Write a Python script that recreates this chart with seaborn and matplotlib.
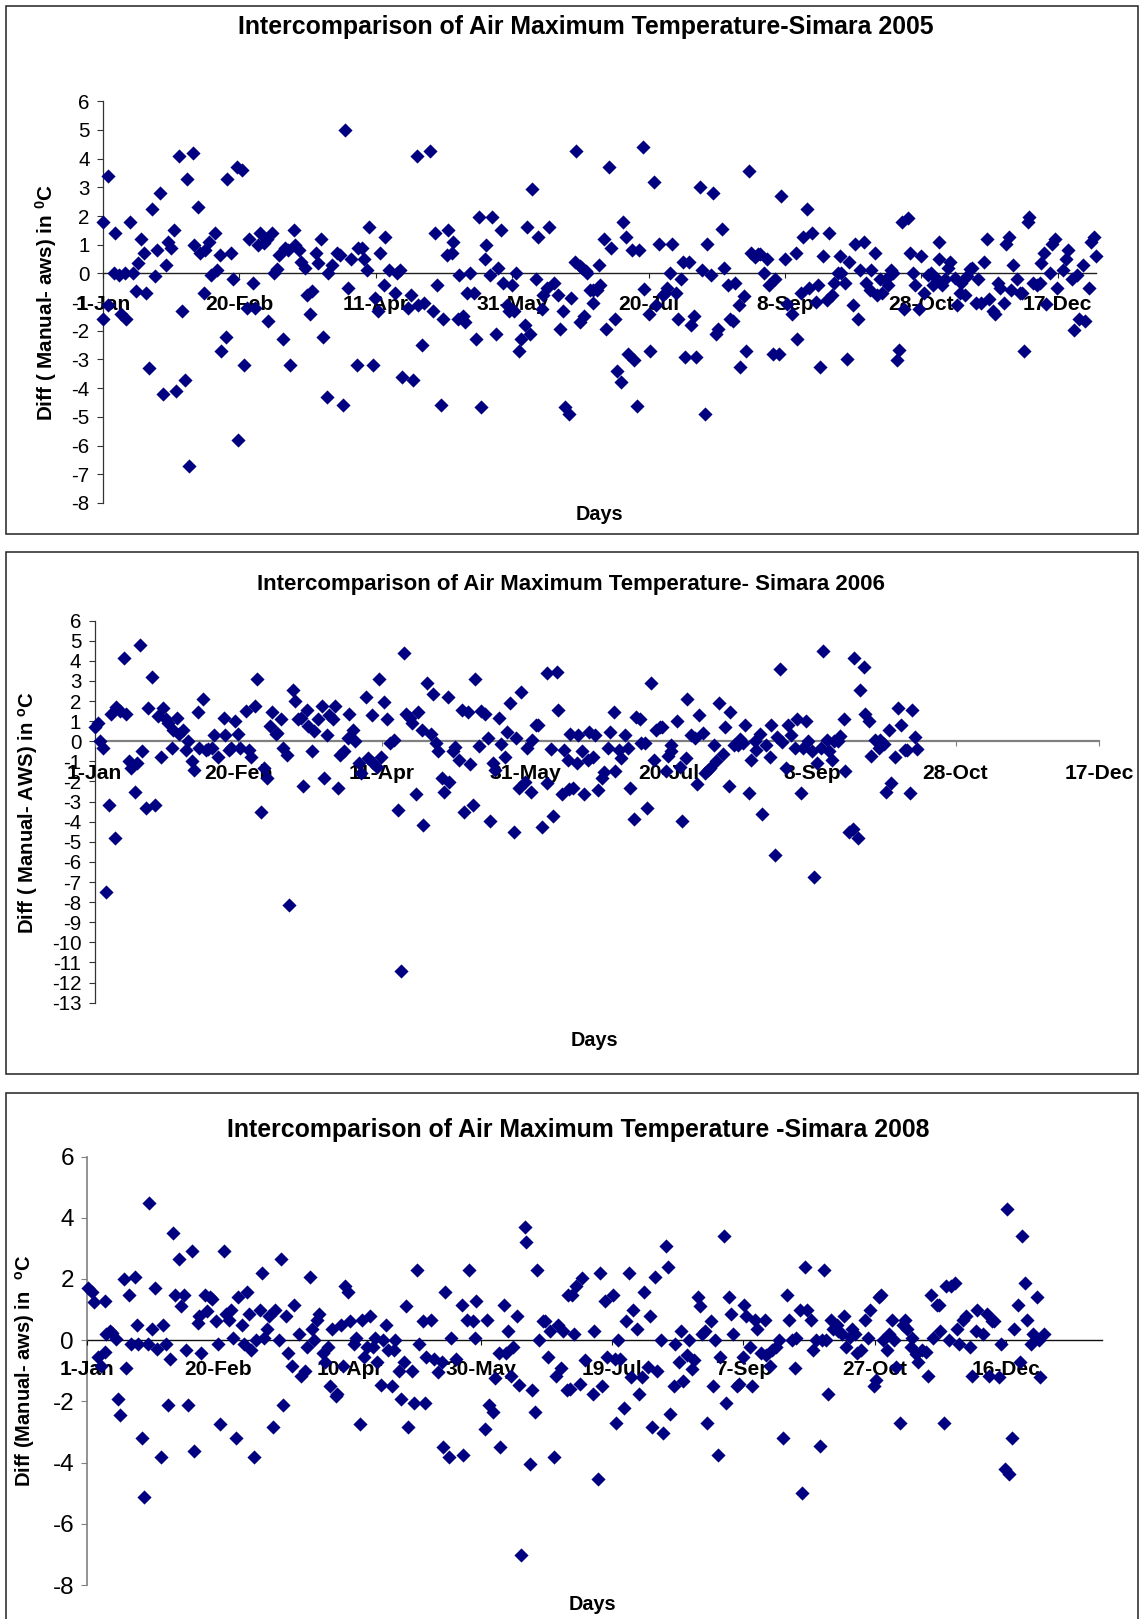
"""Intercomparison of air maximum temperature at Simara, three years stacked."""

import matplotlib.pyplot as plt
from matplotlib.patches import Rectangle
import pandas as pd
import seaborn as sns

WIDTH, HEIGHT = 1139, 1619

DAYS_2005 = [
    0, 0, 2, 2, 4, 4.5, 6, 6.5, 8, 8.5, 10, 11,
    12, 13, 14, 15, 16, 17, 18, 19, 20, 21, 22, 23,
    24, 25, 26, 27, 28, 29, 30, 31, 31.5, 33, 33.5, 35,
    35.5, 37, 37.5, 39, 39.5, 41, 41.7, 43, 43.5, 45, 45.7, 47,
    47.7, 49, 49.7, 51, 51.7, 53, 53.7, 55, 55.7, 57, 57.7, 59,
    60, 60.5, 62, 62.6, 64, 64.6, 66, 66.6, 68, 68.6, 70, 70.6,
    72, 72.7, 74, 74.7, 76, 76.5, 78, 78.7, 80, 80.7, 82, 82.7,
    84, 86, 87, 88, 88.8, 90, 90.8, 93, 93.6, 95, 95.6, 97,
    97.6, 99, 99.6, 101, 101.6, 103, 103.6, 105, 107, 107.7, 109, 109.7,
    112, 113, 113.7, 115, 115.7, 117, 117.7, 120, 121, 121.8, 122.5, 124,
    124.5, 126, 126.5, 128, 128.5, 130, 130.5, 132, 132.7, 133.4, 134.6, 136,
    136.6, 138, 138.6, 140, 140.6, 142, 142.6, 144, 144.7, 146, 146.7, 148,
    148.7, 150, 150.7, 151.4, 152.7, 153.4, 154.7, 155.4, 156.7, 157.4, 158.7, 159.5,
    160.9, 161.5, 162.8, 163.5, 165.5, 166.9, 167.5, 168.8, 169.5, 171, 171.5, 173,
    173.6, 175, 175, 175.6, 176.4, 177, 177.6, 178.4, 179.7, 179.7, 181, 181.7,
    182.4, 183.7, 184.4, 185.7, 186.4, 187.7, 188.4, 189.8, 190.5, 191.8, 192.5, 193.8,
    194.5, 195.8, 196.5, 197.8, 198.5, 200, 200.6, 202, 202.6, 204, 205.3, 206,
    206.7, 208, 208.7, 210, 210.7, 212, 212.7, 213.4, 214.7, 215.4, 216.7, 217.4,
    218.7, 219.5, 220.8, 221.5, 222.9, 223.5, 224.9, 225.5, 226.9, 227.7, 229, 229.7,
    231, 231.6, 233, 233.6, 235, 235.6, 237, 237.6, 239, 240, 241, 242.3,
    243.6, 244.3, 245.8, 246.4, 247.8, 248.6, 249.9, 250.6, 252.6, 254, 254.6, 256,
    256.7, 258, 258.7, 260, 261.3, 262, 262.7, 264, 265.3, 266, 267.3, 268,
    269.3, 270, 270.7, 272, 272.8, 273.5, 274.8, 275.5, 276.8, 277.5, 278.8, 279.6,
    281, 281.6, 283, 283.7, 285, 285.7, 287, 287.7, 289, 289.7, 291, 291.7,
    293, 293.7, 295, 295.7, 297, 297.7, 299, 299.7, 301, 302.4, 303.7, 304.4,
    305.7, 306.4, 306.5, 307.7, 308.5, 309.8, 310.5, 312.5, 312.9, 314.5, 314, 316,
    316.6, 318, 318.6, 320, 320.9, 322, 322.9, 324.2, 324.9, 326.2, 326.9, 328.2,
    328.9, 330.2, 330.9, 332.2, 332.8, 333.5, 335, 336.3, 337, 337.6, 339, 339.6,
    341, 342.3, 343.6, 343.7, 345, 345.8, 347, 347.8, 349, 349.8, 351.9, 353,
    353.9, 355.2, 355.9, 357.2, 357.9, 359.2, 359.9, 361.3, 362, 363.3, 364,
]
DIFF_2005 = [
    -1.6, 1.8, 3.4, -1.1, 0, 1.4, -0.07, -1.4, 0, -1.6, 1.8, 0,
    -0.6, 0.35, 1.2, 0.7, -0.7, -3.3, 2.25, -0.1, 0.8, 2.8, -4.2, 0.3,
    1.1, 0.9, 1.5, -4.1, 4.1, -1.3, -3.7, 3.3, -6.7, 4.2, 1, 2.3,
    0.7, -0.7, 0.8, 1.1, -0.07, 1.4, 0.13, 0.63, -2.7, -2.2, 3.3, 0.7,
    -0.2, 3.7, -5.8, 3.6, -3.2, -1.2, 1.2, -0.33, -1.2, 1, 1.4, 1.07,
    1.2, -1.67, 1.4, 0, 0.14, 0.63, -2.3, 0.9, 0.8, -3.2, 1.5, 1,
    0.8, 0.38, 0.2, -0.75, -1.4, -0.6, 0.7, 0.35, 1.2, -2.2, -4.3, 0,
    0.3, 0.7, 0.65, -4.6, 5, -0.5, 0.5, -3.2, 0.9, 0.9, 0.5, 0.12,
    1.6, -3.2, -0.87, -1.3, 0.7, -0.4, 1.27, 0.12, -0.7, 0, 0.12, -3.6,
    -1.2, -0.75, -3.7, 4.1, -1.1, -2.5, -1.03, 4.27, -1.3, 1.4, -0.4, -4.6,
    -1.6, 0.63, 1.5, 0.7, 1.1, -1.6, -0.07, -1.47, -1.7, -0.7, 0, -0.7,
    -2.3, 1.97, -4.67, 0.5, 1, -0.07, 1.97, -2.1, 0.2, 1.5, -0.33, -1.1,
    -1.3, -0.4, -1.3, 0, -2.7, -2.3, -1.8, 1.6, -2.1, 2.93, -0.2, 1.27,
    -1.23, -0.75, -0.5, 1.6, -0.33, -0.75, -1.93, -1.3, -4.67, -4.9, -0.87, 0.38,
    4.27, 0.26, -1.7, 0.2, -1.5, 0.08, 0, -0.57, -0.57, -1.03, -0.57, 0.3,
    -0.4, 1.2, -1.93, 3.7, 0.9, -1.6, -3.4, -3.8, 1.78, 1.28, -2.82, 0.83,
    -3.03, -4.62, 0.83, 4.4, -0.53, -1.4, -2.7, 3.18, -1.1, 1.02, -0.75, -0.7,
    -0.5, 0, 1.02, -0.7, -1.6, -0.2, 0.38, -2.9, 0.38, -1.8, -1.47, -2.9,
    3, 0.12, -4.9, 1.02, -0.07, 2.8, -2.1, -1.93, 1.53, 0.2, -0.4, -1.6,
    -1.67, -0.33, -1.1, -3.27, -0.78, -2.7, 3.58, 0.7, 0.56, 0.68, 0.68, 0,
    0.5, -0.4, -2.82, -0.2, -2.82, 2.68, 0.5, -1.05, -1.4, 0.7, -2.3, -0.7,
    1.28, 2.24, -0.5, 1.4, -1, -0.4, -3.27, 0.62, -0.93, 1.4, -0.75, -0.33,
    0, 0.62, 0, -0.33, -3, 0.38, -1.1, 1.02, -1.6, 0.12, 1.08, -0.33,
    -0.57, 0.12, 0.7, -0.75, -0.2, -0.7, -0.2, -0.4, 0.12, 0, -3.03, -2.67,
    1.78, -1.23, 1.93, 0.7, 0, -0.4, -1.23, 0.62, -0.7, -0.07, 0, -0.4,
    -0.2, 0.5, 1.08, -0.4, -0.2, 0.2, 0.38, -0.15, -1.1, -0.33, -0.7, -0.75,
    -0.1, 0.14, 0.2, -1.03, -0.2, -1.03, 0.38, 1.2, -0.9, -1.3, -1.4, -0.33,
    -0.5, -1.03, 1.02, 1.27, -0.57, 0.3, -0.2, -0.7, -0.7, -2.7, 1.78, 1.97,
    -0.33, -0.4, -0.33, 0.35, 0.7, -1.05, 0, 1.02, 1.2, -0.5, 0.12, 0.5,
    0.83, -0.2, -1.98, -0.07, -1.6, 0.3, -1.67, -0.5, 1.08, 1.28, 0.62,
]

DAYS_2006 = [
    0, 1.3, 2, 3, 4, 5, 5.7, 7, 7.6, 9, 10.3, 11,
    12, 12.8, 14, 14.7, 16, 16.7, 18, 18.6, 20, 21, 22, 23,
    23.7, 25, 25.6, 26.9, 27.5, 28.8, 29.4, 30.7, 32, 32.7, 34, 34.6,
    35.9, 36.5, 37.9, 39, 39.6, 41, 41.7, 43, 45, 45.6, 47, 47.6,
    49, 50, 50.8, 52.7, 54, 54.6, 56, 56.7, 58, 59.2, 60, 61.3,
    61.9, 63.1, 63.7, 65, 65.6, 67, 67.6, 69, 70, 70.8, 72, 72.6,
    73.9, 74.5, 75.9, 76.6, 77.8, 79.2, 79.8, 81, 81.7, 83, 83.8, 85,
    85.7, 87, 88.2, 88.8, 90, 90.7, 92, 92.8, 94.7, 95.3, 96.6, 97.2,
    98.5, 99, 99.9, 101, 101.8, 103, 104.3, 105.6, 106.8, 108, 108.7, 110,
    110.8, 112, 112.7, 114, 114.6, 116, 117.2, 117.9, 119, 119.8, 121, 121.7,
    123, 123.6, 124.9, 125.6, 126.9, 128, 128.8, 130, 130.8, 132, 132.7, 134,
    134.6, 135.9, 137, 137.8, 139, 139.7, 141, 141.7, 143, 143.6, 144.9, 146,
    146.8, 148, 148.7, 149.9, 150.6, 152, 152.5, 153.9, 154.5, 156, 157.5, 157.7,
    159, 159.7, 161, 161.6, 163, 163.5, 165, 165.4, 165.7, 166.7, 168.2, 168.6,
    169.9, 170.5, 171.8, 172.4, 173.7, 174.3, 175.6, 176.9, 177.5, 179, 179.6, 180.9,
    181.5, 182.8, 183.4, 184.7, 186, 186.7, 188, 188.6, 189.9, 190.5, 191.9, 192.6,
    193.8, 195.1, 195.7, 197, 197.6, 199.2, 199.8, 201, 201, 202.8, 204, 204.7,
    206, 206.6, 207.9, 209.2, 210, 210.6, 212, 212.6, 213.9, 214.5, 215.8, 216.4,
    217.7, 218.9, 219.7, 221, 221.6, 222.9, 224.1, 224.8, 226, 226.8, 228, 228.7,
    230, 230.6, 231.9, 232.5, 233.8, 235.2, 235.8, 237, 237.7, 239, 239.6, 240.9,
    241.5, 242.8, 244.2, 244.8, 246, 246.7, 248, 248.7, 250, 250.6, 251.9, 253.2,
    253.9, 255.2, 255.8, 257, 257.8, 259, 259.7, 261, 261.6, 262.9, 264.2, 264.8,
    266, 266.7, 268, 268.6, 269.9, 270.6, 271.9, 273.2, 273.8, 275, 275.7, 277,
    277.6, 279, 279.8, 280.9, 282.3, 283, 284.2, 284.8, 286, 286.7,
]
DIFF_2006 = [
    0.73, 0.9, 0, -0.33, -7.5, -3.15, 1.35, -4.8, 1.7, 1.5, 4.13, 1.35,
    -1, -1.35, -2.5, -1.1, 4.77, -0.47, -3.3, 1.65, 3.2, -3.15, 1.27, -0.76,
    1.65, 1.1, 0.93, -0.33, 0.54, 1.18, 0.34, 0.56, -0.42, 0, -1, -1.43,
    1.47, -0.33, 2.1, -0.42, -0.4, -0.33, 0.3, -0.76, 1.18, 0.29, -0.42, -0.33,
    1, 0.34, -0.33, 1.5, -0.42, -0.76, 1.74, 3.12, -3.5, -1.35, -1.85, 0.76,
    1.47, 0.34, 0.4, 1.1, -0.33, -0.67, -8.13, 2.56, 2, 1.1, 1.18, -2.22,
    1.55, 0.76, -0.47, 0.5, 1.1, 1.74, -1.85, 0.3, 1.3, 1.1, 1.74, -2.33,
    -0.67, -0.47, 0.17, 1.35, 0.56, 0, -1.1, -1.6, 2.2, -0.84, 1.3, -1.1,
    -1.26, 3.12, -0.76, 1.94, 1.1, -0.08, 0.05, -3.42, -11.43, 4.38, 1.35, 1.18,
    0.89, -2.6, 1.47, 0.56, -4.17, 2.92, 0.34, 2.36, -0.08, -0.47, -1.85, -2.5,
    2.2, -2.02, -0.47, -0.3, -0.93, 1.55, -3.5, 1.47, -1.13, -3.15, 3.12, -0.22,
    1.5, 1.35, 0.17, -3.96, -1.1, -1.43, 1.18, -0.12, -0.76, 0.46, 1.9, -4.52,
    0.17, -2.33, 2.45, -2.02, -0.33, -2.5, 0.05, 0.8, 0.8, -4.25, -2.1, 3.37,
    -0.39, -3.71, 3.46, 1.55, -2.6, -0.42, -0.93, -2.36, 0.34, -2.33, -1.1, 0.29,
    -0.47, -2.6, -0.93, 0.46, -0.76, 0.29, -2.41, -1.85, -1.55, -0.33, 0.46, 1.47,
    -1.48, -0.42, -0.84, 0.29, -0.33, -2.33, -3.88, 1.23, 1.1, -0.08, -0.08, -3.34,
    2.92, -0.93, 0.56, 0.73, 0.73, -1.48, -0.73, -0.47, -0.17, 1, -1.26, -3.96,
    -0.84, 2.1, 0.29, 0.17, -2.14, 1.3, 0.42, -1.6, -1.43, -1.35, -0.17, -1,
    1.9, -0.62, 0.73, -2.24, 1.47, -0.2, -0.17, 0.12, -0.08, 0.81, -2.58, -0.93,
    0, -0.42, 0.37, -3.63, -0.2, -0.76, 0.81, -5.65, 0.2, 3.58, -0.03, -1.32,
    0.81, 0.29, -0.33, 1.1, -2.58, -0.33, 1, 0, -0.5, -6.75, -1.1, -0.33,
    4.5, 0.08, -0.5, -0.93, 0, 0, 0.25, 1.1, -1.48, -4.52, -4.35, 4.13,
    -4.8, 2.56, 3.68, 1.38, 1, -0.73, 0.08, -0.33, 0.08, -0.13, -2.5, 0.56,
    -2.1, -0.76, 1.65, 0.81, -0.45, -0.45, -2.58, 1.55, 0.2, -0.39,
]

DAYS_2008 = [
    0.3, 1.7, 2.5, 3.9, 5.3, 6.7, 6.9, 7.3, 8.7, 9.6, 11, 11.6,
    12.5, 13.9, 14.6, 15.9, 16.6, 18.2, 18.8, 19.5, 20.9, 21.6, 23, 23.7,
    24.5, 25.9, 26.6, 28, 28.7, 30, 30.8, 31.5, 32.8, 33.5, 34.9, 35.6,
    37, 37.8, 38.4, 39.9, 40.6, 42, 42.7, 43.4, 44.8, 45.5, 46.8, 47.7,
    49, 49.8, 50.4, 52, 52.7, 54, 54.7, 55.4, 56.8, 57.5, 58.9, 59.6,
    61, 61.7, 62.4, 63.7, 64.4, 65.8, 66.5, 67.2, 68.6, 69.4, 70.8, 71.6,
    73, 73.7, 74.4, 75.8, 76.5, 77.9, 78.6, 80.7, 81.3, 82.9, 83.6, 85,
    85.6, 86.3, 87.7, 88.4, 89.8, 90.5, 91.9, 92.6, 93.3, 94.7, 95.3, 96.7,
    97.4, 98.1, 99.5, 100.2, 101.6, 102.5, 103.9, 104.6, 105.3, 106.7, 107.7, 109,
    109.8, 110.4, 111.8, 112.5, 113.9, 114.6, 116, 116.7, 117.4, 118.8, 119.5, 120.8,
    121.5, 122.2, 123.6, 124.3, 125.7, 126.4, 127.8, 128.5, 129.2, 130.8, 132.2, 133.6,
    135, 135.7, 136.4, 137.8, 138.4, 140.5, 142.6, 143.3, 144.7, 145.4, 146.9, 147.6,
    148.3, 151.7, 152.4, 153.1, 154.5, 155.2, 156.7, 157.4, 158.7, 159.5, 160.2, 161.6,
    162.3, 163.7, 164.5, 165.2, 166.6, 167.3, 168.7, 169.4, 170.7, 171.4, 172.3, 173.7,
    174.4, 175.7, 176.4, 177.8, 178.5, 179.2, 180.6, 181.3, 182.6, 183.3, 184, 184.6,
    185.6, 186.3, 187.7, 188.4, 189.8, 192.6, 193.2, 194.6, 195.3, 196, 197.4, 198.1,
    200.2, 200.9, 201.6, 202.4, 203.1, 204.5, 205.2, 206.5, 207.2, 208, 209.3, 210.2,
    211.5, 212.2, 213.6, 214.3, 215, 216.4, 217.1, 218.6, 219.3, 220.7, 221.4, 222.1,
    223.5, 224.1, 225.5, 226.4, 227, 228.4, 229.1, 230.5, 231.2, 232.7, 233.4, 234.1,
    235.5, 236.2, 237.6, 238.4, 239.1, 240.5, 241.2, 242.6, 243.3, 244.7, 245.4, 246.2,
    247.6, 248.3, 249.7, 250.3, 251, 252.4, 253.1, 254.5, 255.2, 256.6, 258.1, 258.8,
    260.2, 260.9, 262.3, 263.6, 265.2, 266.5, 267.3, 268.6, 269.5, 270.2, 271.5, 272.2,
    273.6, 274.3, 275.7, 276.4, 277.8, 279.2, 279.9, 280.6, 281.4, 282.1, 283.5, 284.2,
    285.5, 286.2, 287.6, 288.4, 289.1, 290.5, 291.2, 292.6, 293.4, 294.8, 296.2, 297.6,
    298.3, 299.7, 300.4, 301.8, 302.5, 303.1, 304.7, 305.4, 306.7, 307.4, 308.1, 309.5,
    310.9, 311.6, 312.3, 313.7, 314.4, 315.8, 316.7, 318.1, 319.5, 320.2, 321.6, 322.3,
    323.7, 324.4, 325, 326.4, 327.1, 328.5, 329.2, 330.6, 331.4, 332.1, 333.5, 335,
    336.4, 337.1, 338.5, 339.2, 341.4, 342.8, 343.5, 344.9, 345.6, 347.5, 348.3, 349.7,
    350.4, 351.1, 352.5, 353.2, 354.7, 355.4, 356.1, 357.5, 358.2, 359.5, 360.2, 361.8,
    362.5, 363.2, 364.5,
]
DIFF_2008 = [
    1.71, 1.58, 1.25, -0.55, -0.83, -0.4, 1.27, 0.2, 0.31, 0.24, 0.03, -1.93,
    -2.43, 1.99, -0.91, 1.46, -0.13, 2.07, 0.49, -0.13, -3.2, -5.14, -0.13, 4.48,
    0.36, 1.69, -0.28, -3.81, 0.49, -0.13, -2.12, -0.61, 3.5, 1.46, 2.65, 1.1,
    1.46, -0.31, -2.12, 2.9, -3.62, 0.57, 0.8, -0.42, 1.46, 0.94, 1.41, 1.35,
    0.61, -0.13, -2.73, 2.9, 0.85, 0.66, 0.97, 0.06, -3.2, 1.41, 0.49, -0.13,
    1.58, 0.85, -0.31, -3.81, 0, 0.97, 2.19, 0.06, 0.36, 0.8, -2.84, 0.97,
    0, 2.65, -2.12, 0.8, -0.42, -0.85, 1.16, 0.2, -1.16, -1.02, -0.24, 2.07,
    0.36, 0, 0.66, 0.85, -0.42, -0.72, -0.24, -1.51, 0.36, -1.82, -1.77, 0.49,
    -0.85, 1.77, 1.58, 0.61, -0.13, 0.06, -2.73, 0.66, -0.55, -0.24, 0.8, -0.24,
    0.06, -0.72, -1.46, 0, 0.49, -0.31, -1.51, -0.31, 0, -1.02, -1.93, -0.72,
    1.1, -2.84, -1.02, -2.07, 2.3, -0.13, 0.61, -2.07, -0.55, 0.66, -0.61, -1.03,
    -0.72, -3.5, 1.58, -3.81, 0.06, -0.61, 1.16, -3.76, 0.66, 2.3, 0.61, 0.06,
    1.27, -2.9, 0.66, -2.12, -2.35, -1.24, -0.42, -3.5, 1.16, -0.42, 0.31, -1.16,
    -0.24, 0.8, -1.46, -7.02, 3.69, 3.2, -4.06, -1.64, -2.35, 2.3, 0, 0.61,
    0.61, -0.55, 0.31, -3.81, -1.16, 0.49, -0.91, 0.31, -1.64, 1.46, -1.6, 1.47,
    0.2, 1.77, -1.44, 2.04, -0.66, -1.75, 0.31, -4.53, 2.18, -1.5, 1.27, -0.55,
    1.47, -0.61, -2.72, 0, -0.61, -2.23, 0.61, 2.18, -1.22, 0.97, 0.36, -1.75,
    -1.22, 1.58, -0.88, 0.8, -2.84, 2.07, -1.02, 0, -3.03, 3.09, 2.38, -2.41,
    -1.51, -0.11, -0.72, 0.31, -1.33, -0.5, 0, -0.94, -0.66, 1.41, 1.1, 0.2,
    0.31, -2.72, 0.61, -1.51, 0, -3.76, -0.55, 3.39, -2.06, 1.41, 0.85, 0.2,
    -1.51, -1.44, -0.55, 1.16, 0.8, -0.24, -1.51, 0.66, 0.36, -0.42, 0.66, -0.5,
    -0.85, -0.31, -0.24, 0, -3.2, 1.46, 0.66, 0, -0.91, 0.06, 0.97, -5,
    2.38, 0.97, 0.66, -0.31, 0, -3.45, 0, 2.3, 0, -1.75, 0.66, 0.36,
    0.49, 0.31, 0.2, 0.8, -0.24, 0.11, 0.36, 0.2, -0.42, -0.31, 0.66, 0.06,
    0.97, -1.51, -1.3, 1.41, 1.47, 0, -0.31, 0.2, 0.66, 0, -0.88, -2.72,
    0.49, 0.66, 0.36, -0.24, 0.06, -0.44, -0.72, -0.33, -0.39, -1.16, 1.47, 0.06,
    1.16, 1.16, 0.31, -2.72, 1.77, 0, 1.77, 1.87, 0.36, -0.13, 0.66, 0.8,
    -0.24, -1.16, 0.31, 0.97, 0.2, 0.85, -1.16, 0.61, 0.61, -1.22, -0.11, -4.22,
    4.29, -4.36, -3.2, 0.36, 1.16, -0.7, 3.39, 1.87, 0.66, -0.13, 0.2, 1.41,
    0, -1.22, 0.2,
]

TICK_DAYS = [0, 50, 100, 150, 200, 250, 300, 350]
LABELS_2005 = ["1-Jan", "20-Feb", "11-Apr", "31-May", "20-Jul", "8-Sep", "28-Oct", "17-Dec"]
LABELS_2006 = LABELS_2005
LABELS_2008 = ["1-Jan", "20-Feb", "10-Apr", "30-May", "19-Jul", "7-Sep", "27-Oct", "16-Dec"]

TITLE_2005 = "Intercomparison of Air Maximum Temperature-Simara 2005"
TITLE_2006 = "Intercomparison of Air Maximum Temperature- Simara 2006"
TITLE_2008 = "Intercomparison of Air Maximum Temperature -Simara 2008"
YLABEL_2005 = r"Diff ( Manual- aws) in $\mathbf{^{0}}$C"
YLABEL_2006 = r"Diff ( Manual- AWS) in $\mathbf{^{o}}$C"
YLABEL_2008 = r"Diff (Manual- aws) in  $\mathbf{^{o}}$C"

NAVY = "#000080"


def to_fig(x, y):
    """Pixel position (from top left) to figure fraction."""
    return x / WIDTH, 1 - y / HEIGHT


def draw_panel(fig, days, diff, labels, title, ylabel, yticks, box, xmax, frame, style):
    """One boxed scatter panel; box is left, top, right, bottom in pixels."""
    frame_l, frame_t, frame_r, frame_b = frame
    fx, fy = to_fig(frame_l, frame_b)
    fig.add_artist(
        Rectangle(
            (fx, fy),
            (frame_r - frame_l) / WIDTH,
            (frame_b - frame_t) / HEIGHT,
            transform=fig.transFigure,
            fill=False,
            edgecolor="#222222",
            linewidth=1.1,
            clip_on=False,
        )
    )

    left, top, right, bottom = box
    ax = fig.add_axes(
        [left / WIDTH, 1 - bottom / HEIGHT, (right - left) / WIDTH, (bottom - top) / HEIGHT]
    )
    ax.patch.set_alpha(0)

    table = pd.DataFrame({"day": days, "diff": diff})
    sns.scatterplot(
        table, x="day", y="diff", ax=ax, marker="D", color=NAVY,
        s=style["size"], linewidth=0, clip_on=False, zorder=1,
    )

    ax.set_xlim(0, xmax)
    ax.set_ylim(yticks[-1], yticks[0])
    ax.set_xlabel("")
    ax.set_ylabel("")

    for side in ["top", "right"]:
        ax.spines[side].set_visible(False)
    ax.spines["bottom"].set_position(("data", 0))
    ax.spines["bottom"].set_color(style["xline"])
    ax.spines["bottom"].set_linewidth(style["xwidth"])
    ax.spines["bottom"].set_zorder(0.5)
    ax.spines["left"].set_color(style["yline"])
    ax.spines["left"].set_linewidth(style["ywidth"])
    ax.spines["left"].set_zorder(0.5)

    ax.set_yticks(yticks)
    ax.set_yticklabels([str(t) for t in yticks], fontsize=style["ytick_size"], color="black")
    ax.tick_params(axis="y", direction="out", length=4.5, width=0.8, color=style["yline"], pad=style["ypad"])

    ax.set_xticks(TICK_DAYS)
    ax.set_xticklabels(labels, fontsize=style["xtick_size"], fontweight="bold", color="black")
    ax.tick_params(axis="x", direction="out", length=3.5, width=0.8, color=style["xline"], pad=style["xpad"])

    tx, ty = to_fig(*style["title_at"])
    fig.text(tx, ty, title, ha="center", va="center", fontsize=style["title_size"], fontweight="bold", color="black")
    tx, ty = to_fig(*style["days_at"])
    fig.text(tx, ty, "Days", ha="center", va="center", fontsize=14.3, fontweight="bold", color="black")
    tx, ty = to_fig(*style["ylabel_at"])
    fig.text(tx, ty, ylabel, ha="center", va="center", rotation=90, fontsize=style["ylabel_size"], fontweight="bold", color="black")


if __name__ == "__main__":
    sns.set_style("ticks")
    plt.rcParams["font.family"] = ["Liberation Sans", "DejaVu Sans"]
    plt.rcParams["mathtext.fontset"] = "custom"
    plt.rcParams["mathtext.bf"] = "Liberation Sans:bold"
    plt.rcParams["mathtext.rm"] = "Liberation Sans"

    fig = plt.figure(figsize=(WIDTH / 100, HEIGHT / 100), dpi=100)

    draw_panel(
        fig, DAYS_2005, DIFF_2005, LABELS_2005, TITLE_2005, YLABEL_2005,
        list(range(6, -9, -1)), (102.8, 101.2, 1096, 503), 364, (5.5, 6, 1138, 534),
        {"size": 52, "xline": "#222222", "xwidth": 1.0, "yline": "#333333", "ywidth": 0.9,
         "ytick_size": 14.8, "ypad": 5, "xpad": 12, "xtick_size": 15.2, "title_size": 17.9,
         "ylabel_size": 14.9,
         "title_at": (586, 27), "days_at": (599, 515), "ylabel_at": (46, 302)},
    )
    draw_panel(
        fig, DAYS_2006, DIFF_2006, LABELS_2006, TITLE_2006, YLABEL_2006,
        list(range(6, -14, -1)), (94.5, 620.6, 1099, 1002.7), 350, (5.5, 552.5, 1138, 1074),
        {"size": 52, "xline": "#808080", "xwidth": 1.6, "yline": "#333333", "ywidth": 0.9,
         "ytick_size": 14.8, "ypad": 5, "xpad": 12.7, "xtick_size": 15.2, "title_size": 16.05,
         "ylabel_size": 14.6,
         "title_at": (571, 584), "days_at": (594, 1041), "ylabel_at": (28, 813)},
    )
    draw_panel(
        fig, DAYS_2008, DIFF_2008, LABELS_2008, TITLE_2008, YLABEL_2008,
        list(range(6, -9, -2)), (87.3, 1156.5, 1101.6, 1585), 386.5, (5.5, 1092.5, 1138, 1640),
        {"size": 52, "xline": "#111111", "xwidth": 1.0, "yline": "#808080", "ywidth": 1.2,
         "ytick_size": 17.5, "ypad": 5, "xpad": 10.5, "xtick_size": 15.0, "title_size": 17.95,
         "ylabel_size": 14.5,
         "title_at": (578, 1130), "days_at": (592, 1604), "ylabel_at": (25, 1371)},
    )

    plt.savefig("out.png", dpi=100)
